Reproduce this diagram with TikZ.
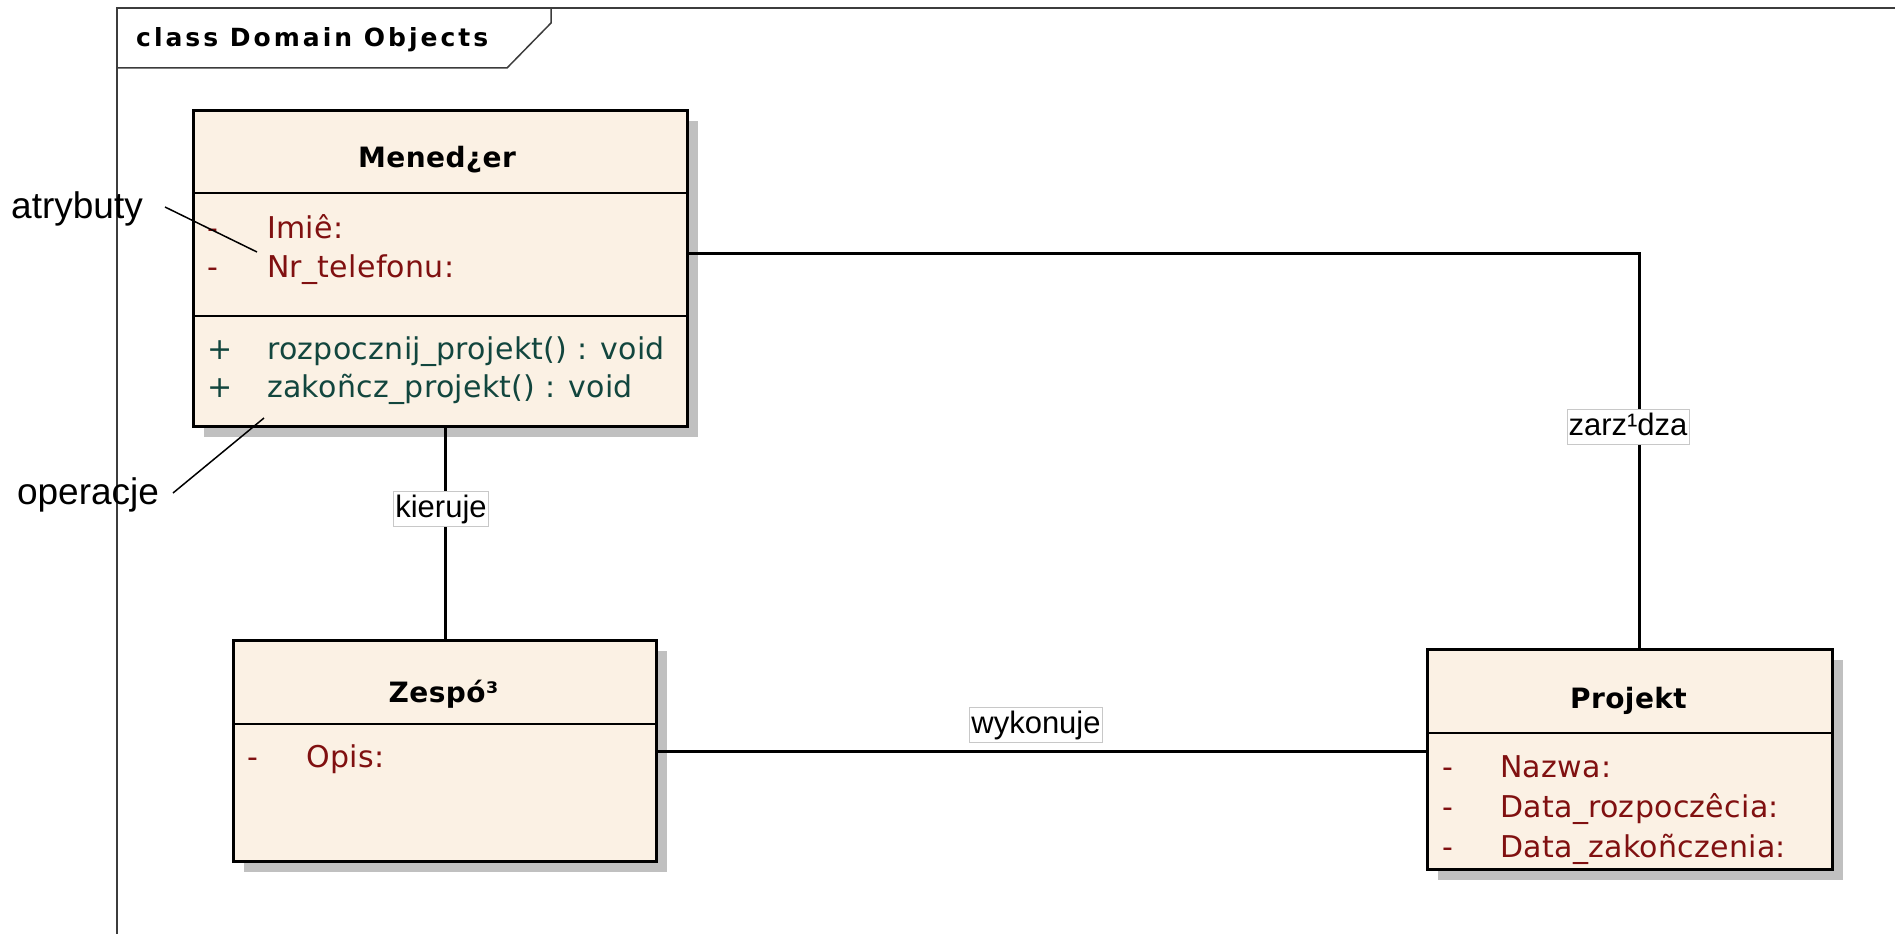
\documentclass[tikz,border=0pt]{standalone}
\usepackage{fontspec}
\setmainfont{Liberation Sans}
\newfontfamily\clsfont[LetterSpace=1]{DejaVu Sans}
\newfontfamily\clstitle[LetterSpace=1.5]{DejaVu Sans}
\newfontfamily\framefont[LetterSpace=12]{DejaVu Sans}
\usetikzlibrary{shadows,calc}

\definecolor{classfill}{RGB}{251,241,228}
\definecolor{attrred}{RGB}{128,16,16}
\definecolor{opgreen}{RGB}{18,70,62}
\definecolor{shadowgrey}{RGB}{192,192,192}
\definecolor{framegrey}{RGB}{60,60,60}
\definecolor{labelborder}{RGB}{200,200,200}

\begin{document}
\begin{tikzpicture}[x=1pt,y=-1pt,
  classbox/.style={draw=black, line width=3pt, fill=classfill, anchor=north west,
    inner sep=0pt,
    general shadow={fill=shadowgrey, shadow xshift=10pt, shadow yshift=-10pt}},
  sepline/.style={draw=black, line width=2pt},
  clsname/.style={anchor=base, inner sep=0pt,
    font=\clstitle\bfseries\fontsize{28}{32}\selectfont},
  member/.style={anchor=base west, inner sep=0pt,
    font=\clsfont\fontsize{30}{34}\selectfont},
  attr/.style={member, text=attrred},
  oper/.style={member, text=opgreen},
  assoc/.style={draw=black, line width=3pt},
  assoclabel/.style={draw=labelborder, line width=0.8pt, fill=white,
    inner xsep=1.5pt, inner ysep=1.5pt, text height=24pt, text depth=8pt,
    font=\fontsize{31}{36}\selectfont},
  note/.style={inner sep=0pt, font=\fontsize{37}{42}\selectfont},
  leader/.style={draw=black, line width=1.5pt},
  framebox/.style={draw=framegrey, line width=1.5pt}]

\useasboundingbox (0,0) rectangle (1895,934);

% diagram frame with its name tab
\draw[framebox] (117,934) -- (117,8) -- (1895,8);
\draw[framebox] (117,68) -- (507,68) -- (551,23) -- (551,8);
\node[anchor=base west, inner sep=0pt,
  font=\framefont\bfseries\fontsize{25}{28}\selectfont] (frametitle) at (136,47)
  {class Domain Objects};

% class Menedzer
\node[classbox, minimum width=494pt, minimum height=316pt] (men) at (192,109) {};
\draw[sepline] (192,193) -- (686,193);
\draw[sepline] (192,316) -- (686,316);
\node[clsname] (men-name) at (437,167) {Mened¿er};
\node[attr] (men-v1) at (207,238) {-};
\node[attr] (men-a1) at (267,238) {Imiê:};
\node[attr] (men-v2) at (207,277) {-};
\node[attr] (men-a2) at (267,277) {Nr\_telefonu:};
\node[oper] (men-p1) at (207,359) {+};
\node[oper] (men-o1) at (267,359) {rozpocznij\_projekt() : void};
\node[oper] (men-p2) at (207,397) {+};
\node[oper] (men-o2) at (267,397) {zakoñcz\_projekt() : void};

% class Zespol
\node[classbox, minimum width=423pt, minimum height=221pt] (zes) at (232,639) {};
\draw[sepline] (232,724) -- (655,724);
\node[clsname] (zes-name) at (443.5,702) {Zespó³};
\node[attr] (zes-v1) at (247,767) {-};
\node[attr] (zes-a1) at (306,767) {Opis:};

% class Projekt
\node[classbox, minimum width=405pt, minimum height=220pt] (proj) at (1426,648) {};
\draw[sepline] (1426,733) -- (1831,733);
\node[clsname] (proj-name) at (1628.5,708) {Projekt};
\node[attr] (proj-v1) at (1442,777) {-};
\node[attr] (proj-a1) at (1500,777) {Nazwa:};
\node[attr] (proj-v2) at (1442,817) {-};
\node[attr] (proj-a2) at (1500,817) {Data\_rozpoczêcia:};
\node[attr] (proj-v3) at (1442,857) {-};
\node[attr] (proj-a3) at (1500,857) {Data\_zakoñczenia:};

% associations
\draw[assoc] (men.south -| zes.north) -- (zes.north);
\draw[assoc] (zes.east) -- (zes.east -| proj.west);
\draw[assoc] ($(men.north east)+(0,144)$) -| ($(proj.north)+(9,0)$);

\node[assoclabel] (lab-kieruje) at (441,509) {kieruje};
\node[assoclabel] (lab-wykonuje) at (1036,725) {wykonuje};
\node[assoclabel] (lab-zarzadza) at (1628,427) {zarz¹dza};

% annotations
\node[note] (atr) at (77,209) {atrybuty};
\node[note] (ope) at (88,495) {operacje};
\coordinate (atr-from) at (165,207);
\coordinate (atr-to) at (257,252);
\coordinate (ope-from) at (264,418);
\coordinate (ope-to) at (173,493);
\draw[leader] (atr-from) -- (atr-to);
\draw[leader] (ope-from) -- (ope-to);

\end{tikzpicture}
\end{document}
